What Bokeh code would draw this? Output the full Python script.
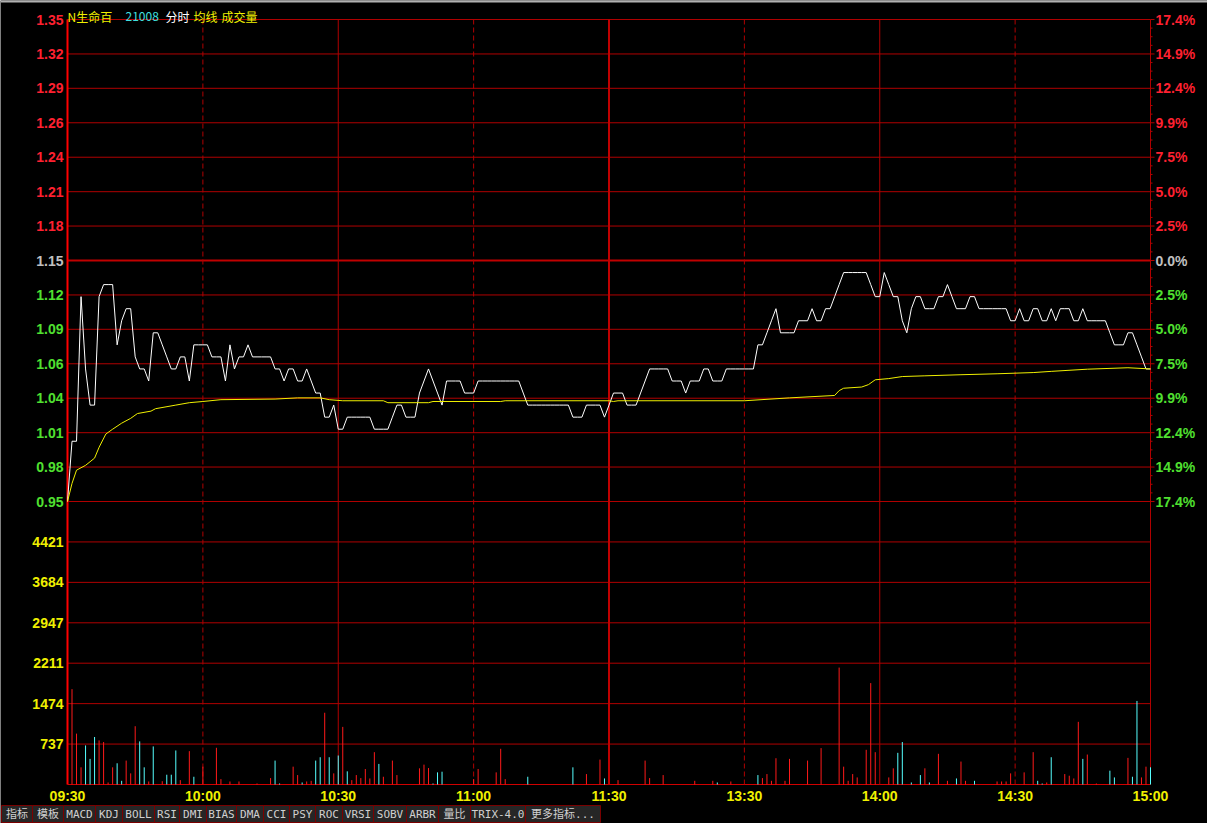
from bokeh.plotting import figure
from bokeh.models import ColumnDataSource, Range1d
from bokeh.embed import file_html
from bokeh.resources import INLINE
from bokeh.core.properties import value

# ---------------- data ----------------
stock_name = "N生命百"
stock_code = "21008"
header_items = ["分时", "均线", "成交量"]
prev_close = 1.15

price = [
    0.95, 1.00, 1.00, 1.12, 1.06, 1.03, 1.03, 1.12, 1.13, 1.13,
    1.13, 1.08, 1.10, 1.11, 1.11, 1.07, 1.06, 1.06, 1.05, 1.09,
    1.09, 1.08, 1.07, 1.06, 1.06, 1.07, 1.07, 1.05, 1.08, 1.08,
    1.08, 1.08, 1.07, 1.07, 1.07, 1.05, 1.08, 1.06, 1.07, 1.07,
    1.08, 1.07, 1.07, 1.07, 1.07, 1.07, 1.06, 1.06, 1.05, 1.06,
    1.06, 1.05, 1.05, 1.06, 1.05, 1.04, 1.04, 1.02, 1.02, 1.03,
    1.01, 1.01, 1.02, 1.02, 1.02, 1.02, 1.02, 1.02, 1.01, 1.01,
    1.01, 1.01, 1.02, 1.03, 1.03, 1.02, 1.02, 1.02, 1.04, 1.05,
    1.06, 1.05, 1.04, 1.03, 1.05, 1.05, 1.05, 1.05, 1.04, 1.04,
    1.04, 1.05, 1.05, 1.05, 1.05, 1.05, 1.05, 1.05, 1.05, 1.05,
    1.05, 1.04, 1.03, 1.03, 1.03, 1.03, 1.03, 1.03, 1.03, 1.03,
    1.03, 1.03, 1.02, 1.02, 1.02, 1.03, 1.03, 1.03, 1.03, 1.02,
    1.03, 1.04, 1.04, 1.04, 1.03, 1.03, 1.03, 1.04, 1.05, 1.06,
    1.06, 1.06, 1.06, 1.06, 1.05, 1.05, 1.05, 1.04, 1.05, 1.05,
    1.05, 1.06, 1.06, 1.05, 1.05, 1.05, 1.06, 1.06, 1.06, 1.06,
    1.06, 1.06, 1.06, 1.08, 1.08, 1.09, 1.10, 1.11, 1.09, 1.09,
    1.09, 1.09, 1.10, 1.10, 1.10, 1.11, 1.10, 1.10, 1.11, 1.11,
    1.12, 1.13, 1.14, 1.14, 1.14, 1.14, 1.14, 1.14, 1.13, 1.12,
    1.12, 1.14, 1.13, 1.12, 1.12, 1.10, 1.09, 1.11, 1.12, 1.12,
    1.11, 1.11, 1.11, 1.12, 1.12, 1.13, 1.12, 1.11, 1.11, 1.11,
    1.12, 1.12, 1.11, 1.11, 1.11, 1.11, 1.11, 1.11, 1.11, 1.10,
    1.10, 1.11, 1.10, 1.10, 1.11, 1.11, 1.10, 1.10, 1.11, 1.10,
    1.11, 1.11, 1.11, 1.10, 1.10, 1.11, 1.10, 1.10, 1.10, 1.10,
    1.10, 1.09, 1.08, 1.08, 1.08, 1.09, 1.09, 1.08, 1.07, 1.06,
    1.06,
]
minutes = list(range(len(price)))

avg_minutes = [0, 1, 2, 4, 6, 7, 8.5, 10, 12, 14, 15.5, 18.5, 19.5, 24, 27, 30, 34,
               46, 51, 56, 58, 61, 70, 71, 80, 81, 96, 97, 120, 121, 122, 150,
               160, 170, 171, 172, 176, 177.5, 179, 182, 185, 190, 198, 206, 214,
               218, 226, 235, 240]
avg_values = [0.950, 0.965, 0.976, 0.980, 0.986, 0.995, 1.006, 1.010, 1.015, 1.019,
              1.023, 1.025, 1.027, 1.030, 1.032, 1.033, 1.0345, 1.035, 1.036, 1.036,
              1.0345, 1.0336, 1.0336, 1.032, 1.032, 1.033, 1.033, 1.0336, 1.0336,
              1.033, 1.0336, 1.0336, 1.036, 1.038, 1.042, 1.044, 1.045, 1.047,
              1.051, 1.052, 1.0537, 1.0543, 1.0552, 1.056, 1.057, 1.058, 1.0598,
              1.061, 1.060]

vol_minutes = [1, 2, 3, 4, 5, 6, 7, 8, 9, 10, 11, 12, 13, 14, 15, 16, 17, 18, 19,
               21, 22, 23, 24, 25, 27, 28, 30, 33, 34, 36, 38, 42, 45, 46, 47, 50,
               51, 52, 53, 54, 55, 56, 57, 58, 59, 60, 61, 62, 63, 64, 65, 66, 67,
               68, 69, 70, 72, 73, 78, 79, 80, 81, 82, 83, 90, 91, 95, 96, 97, 102,
               112, 115, 118, 119, 122, 128, 129, 132, 139, 143, 144, 147, 153, 154,
               155, 156, 157, 159, 160, 164, 167, 171, 172, 173, 174, 175, 177, 178,
               179, 182, 183, 184, 185, 187, 189, 190, 191, 193, 195, 197, 198, 199,
               201, 206, 207, 208, 209, 212, 214, 215, 216, 217, 218, 221, 222, 223,
               224, 225, 226, 228, 231, 232, 235, 236, 237, 238, 239, 240]
vol_values = [1738, 927, 313, 712, 467, 866, 804, 774, 37, 313, 387, 67, 436, 203,
              1062, 786, 313, 55, 694, 60, 178, 178, 620, 80, 608, 141, 325, 669, 98,
              55, 55, 18, 117, 436, 18, 325, 172, 37, 55, 67, 436, 497, 1308, 497,
              203, 528, 1050, 240, 80, 172, 117, 282, 110, 589, 375, 141, 436, 172,
              295, 362, 300, 18, 221, 233, 98, 282, 221, 651, 98, 141, 313, 190, 454,
              110, 80, 436, 117, 172, 67, 67, 37, 55, 172, 117, 190, 67, 479, 67, 467,
              436, 663, 2131, 325, 67, 190, 129, 632, 1848, 589, 129, 295, 577, 774,
              37, 172, 295, 37, 559, 67, 110, 418, 67, 67, 55, 55, 55, 203, 221, 589,
              67, 18, 37, 497, 190, 160, 110, 1142, 467, 546, 18, 252, 129, 485, 141,
              1523, 129, 325, 313]
vol_side = list("uuuddduuuudduuuddududdduuduuuuuuudduuduuddudu"
                "duduuuuuuduuuuuuddduuuuudduuduuuuuudud"
                "uuuuuuuuuuuuuuuuuudddduduuduuduuuuuuddudu"
                "uuuduuddudduuddu")

price_ticks = [0.95, 0.9786, 1.0071, 1.0357, 1.0643, 1.0929, 1.1214, 1.15,
               1.1786, 1.2071, 1.2357, 1.2643, 1.2929, 1.3214, 1.35]
price_tick_labels = ["0.95", "0.98", "1.01", "1.04", "1.06", "1.09", "1.12", "1.15",
                     "1.18", "1.21", "1.24", "1.26", "1.29", "1.32", "1.35"]
pct_tick_labels = ["17.4%", "14.9%", "12.4%", "9.9%", "7.5%", "5.0%", "2.5%", "0.0%",
                   "2.5%", "5.0%", "7.5%", "9.9%", "12.4%", "14.9%", "17.4%"]
vol_ticks = [737, 1474, 2211, 2947, 3684, 4421]
vol_top = 5158
time_ticks = [0, 30, 60, 90, 120, 150, 180, 210, 240]
time_labels = ["09:30", "10:00", "10:30", "11:00", "11:30", "13:30", "14:00", "14:30", "15:00"]
tab_names = ["指标", "模板", "MACD", "KDJ", "BOLL", "RSI", "DMI", "BIAS", "DMA", "CCI",
             "PSY", "ROC", "VRSI", "SOBV", "ARBR", "量比", "TRIX-4.0", "更多指标..."]

# ---------------- layout / style ----------------
W, H = 1207, 823
X0, X1 = 67, 1150           # page x of first / last minute
PY_TOP, PY_BOT = 19, 501    # page y of price panel top / bottom
VY_TOP, VY_BOT = 501, 784   # page y of volume panel top / baseline
BG = "#000000"
GRID = "#b00000"
AXIS_RED = "#ff0000"
RED = "#ff2030"
GREEN = "#50e030"
GRAY = "#c0c0c0"
YELLOW = "#f0f000"
CYAN = "#55ffff"
BAR_RED = "#ff1a1a"
FONT = value("Liberation Sans")
dashed_times = [30, 90, 150, 210]
solid_times = [60, 180, 240]
noon_time = 120
tab_edges = [1, 32, 63, 95, 122, 154, 179, 206, 236, 263, 289, 315, 342, 373, 406,
             438, 470, 525, 600]
hdr_x = [67, 125, 165, 193, 221]
hdr_colors = [YELLOW, "#40e0e0", "#ffffff", YELLOW, YELLOW]

p_lo, p_hi = price_ticks[0], price_ticks[-1]
ppm = (X1 - X0) / 240.0
kp = (PY_BOT - PY_TOP) / (p_hi - p_lo)
kv = (VY_BOT - VY_TOP) / vol_top

p = figure(width=W, height=H, output_backend="svg", toolbar_location=None,
           x_range=Range1d(-X0 / ppm, 240 + (W - X1) / ppm),
           y_range=Range1d(p_lo - (H - PY_BOT) / kp, p_hi + PY_TOP / kp),
           x_axis_location=None, y_axis_location=None, min_border=0,
           background_fill_color=BG, border_fill_color=BG, outline_line_color=None)
p.grid.visible = False
p.extra_x_ranges = {"px": Range1d(0, W)}
p.extra_y_ranges = {"vol": Range1d(-(H - VY_BOT) / kv, vol_top + VY_TOP / kv),
                    "py": Range1d(H, 0)}

# window top strip
p.quad(left=0, right=W, top=0, bottom=2, fill_color="#b0b0b0", line_color=None,
       x_range_name="px", y_range_name="py")

# grids – price panel
p.segment(x0=0, x1=240, y0=price_ticks, y1=price_ticks, line_color=GRID, line_width=1)
p.segment(x0=0, x1=240, y0=prev_close, y1=prev_close, line_color="#c00000", line_width=2)
# grids – volume panel
p.segment(x0=0, x1=240, y0=vol_ticks, y1=vol_ticks, line_color=GRID, line_width=1,
          y_range_name="vol")
p.segment(x0=0, x1=240, y0=0, y1=0, line_color="#d00000", line_width=1, y_range_name="vol")
# vertical time lines
p.segment(x0=dashed_times, x1=dashed_times, y0=PY_TOP, y1=VY_BOT, line_color=GRID,
          line_width=1, line_dash="5 3", y_range_name="py")
p.segment(x0=solid_times, x1=solid_times, y0=PY_TOP, y1=VY_BOT, line_color=GRID,
          line_width=1, y_range_name="py")
p.segment(x0=noon_time, x1=noon_time, y0=PY_TOP, y1=VY_BOT, line_color="#c00000",
          line_width=2, y_range_name="py")
p.segment(x0=0, x1=0, y0=PY_TOP, y1=VY_BOT, line_color=AXIS_RED, line_width=2,
          y_range_name="py")

# right-axis ticks (major + minor)
minor = [a + (b - a) * k / 4 for a, b in zip(price_ticks[:-1], price_ticks[1:]) for k in (1, 2, 3)]
p.segment(x0=X1, x1=X1 + 4, y0=price_ticks, y1=price_ticks, line_color=GRID,
          line_width=1, x_range_name="px")
p.segment(x0=X1, x1=X1 + 2, y0=minor, y1=minor, line_color=GRID, line_width=1,
          x_range_name="px")

# price & average lines
p.line(minutes, price, line_color="#ffffff", line_width=1)
p.line(avg_minutes, avg_values, line_color=YELLOW, line_width=1)

# volume bars
vol_src = ColumnDataSource(dict(x=vol_minutes, top=vol_values,
                                color=[BAR_RED if s == "u" else CYAN for s in vol_side]))
p.segment(x0="x", y0=0, x1="x", y1="top", line_color="color", line_width=1,
          source=vol_src, y_range_name="vol")

# axis labels
label_colors = [GRAY if abs(tk - prev_close) < 1e-6 else (RED if tk > prev_close else GREEN)
                for tk in price_ticks]
lab_src = ColumnDataSource(dict(y=price_ticks, ptxt=price_tick_labels, pcttxt=pct_tick_labels,
                                color=label_colors))
p.text(x=X0 - 4, y="y", text="ptxt", text_color="color", source=lab_src,
       text_align="right", text_baseline="middle", text_font=FONT,
       text_font_size="14px", text_font_style="bold", x_range_name="px")
p.text(x=X1 + 5, y="y", text="pcttxt", text_color="color", source=lab_src,
       text_align="left", text_baseline="middle", text_font=FONT,
       text_font_size="14px", text_font_style="bold", x_range_name="px")
p.text(x=X0 - 4, y=vol_ticks, text=[str(t) for t in vol_ticks], text_color=YELLOW,
       text_align="right", text_baseline="middle", text_font=FONT,
       text_font_size="14px", text_font_style="bold", x_range_name="px", y_range_name="vol")
p.text(x=time_ticks, y=VY_BOT + 11, text=time_labels, text_color=YELLOW,
       text_align="center", text_baseline="middle", text_font=FONT,
       text_font_size="14px", text_font_style="bold", y_range_name="py")

# header
p.text(x=hdr_x, y=16, text=[stock_name, stock_code] + header_items, text_color=hdr_colors,
       text_align="left", text_baseline="alphabetic", text_font=value("Noto Sans CJK SC"),
       text_font_size="12px", x_range_name="px", y_range_name="py")

# tab bar
p.quad(left=tab_edges[:-1], right=tab_edges[1:], top=805, bottom=822,
       fill_color="#262626", line_color="#7a0000", line_width=1,
       x_range_name="px", y_range_name="py")
p.text(x=[(a + b) / 2 for a, b in zip(tab_edges[:-1], tab_edges[1:])], y=814,
       text=tab_names, text_align="center", text_baseline="middle", text_color="#d0d0d0",
       text_font=value("DejaVu Sans Mono, Noto Sans CJK SC"), text_font_size="11px",
       x_range_name="px", y_range_name="py")

open("out.html", "w").write(file_html(p, INLINE))
